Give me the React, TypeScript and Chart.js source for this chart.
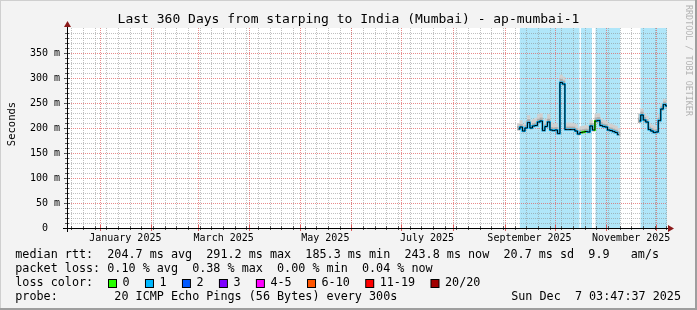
import React, { useEffect, useRef } from 'react';
import { Chart, registerables } from 'chart.js';

Chart.register(...registerables);

// ---------------- text ----------------
const TITLE = 'Last 360 Days from starping to India (Mumbai) - ap-mumbai-1';
const Y_AXIS_TITLE = 'Seconds';
const WATERMARK = 'RRDTOOL / TOBI OETIKER';
const LEGEND_RTT = 'median rtt:  204.7 ms avg  291.2 ms max  185.3 ms min  243.8 ms now  20.7 ms sd  9.9   am/s';
const LEGEND_LOSS = 'packet loss: 0.10 % avg  0.38 % max  0.00 % min  0.04 % now';
const LEGEND_COLOR = 'loss color:';
const LEGEND_PROBE = 'probe:        20 ICMP Echo Pings (56 Bytes) every 300s';
const DATE_STAMP = 'Sun Dec  7 03:47:37 2025';

// ---------------- scales ----------------
const RANGE_DAYS = 360;
const START_UTC = Date.UTC(2024, 11, 12, 12, 0, 0); // graph start (end - 360 days)
const Y_MAX = 400;
const Y_LABEL_TICKS = [0, 50, 100, 150, 200, 250, 300, 350];
const X_LABELS = ['January 2025', 'March 2025', 'May 2025', 'July 2025', 'September 2025', 'November 2025'];
const X_LABEL_YEARS = [2025, 2025, 2025, 2025, 2025, 2025];
const X_LABEL_MONTHS = [0, 2, 4, 6, 8, 10];

// ---------------- loss legend ----------------
const LOSS_LABELS = ['0', '1', '2', '3', '4-5', '6-10', '11-19', '20/20'];
const LOSS_COLORS = ['#26ff00', '#00b8ff', '#0059ff', '#7e00ff', '#ff00ff', '#ff5500', '#ff0000', '#a10000'];

// ---------------- data (x = days since graph start) ----------------
const DAYS = [
  271, 272.5, 274, 275.5, 277, 278.5, 280, 281.5, 283, 284.5,
  286, 287.5, 289, 290.5, 292, 293.5, 295, 296.5, 298, 299.5,
  301, 302.5, 304, 305.5, 307, 308.5, 310, 311.5, 313, 314.5,
  316, 317.5, 319, 320.5, 322, 323.5, 325, 326.5, 328, 329.5,
  331,
  337,
  343.5, 345, 346.5, 348, 349.5, 351, 352.5, 354, 355.5, 357, 358.5, 360,
];
const MEDIAN = [
  198, 202, 194, 200, 211, 200, 204, 205, 212, 214,
  195, 203, 212, 196, 195, 196, 189, 291, 288, 197,
  197, 197, 197, 194, 188, 191, 192, 193, 192, 204,
  196, 214, 215, 205, 203, 202, 196, 195, 193, 191,
  187,
  null,
  214, 226, 216, 212, 197, 194, 191, 192, 215, 238, 247, 244,
];
const SMOKE_HI = [
  209, 215, 207, 214, 225, 214, 217, 220, 227, 229,
  209, 218, 227, 212, 208, 209, 201, 306, 302, 210,
  210, 210, 209, 207, 200, 203, 204, 205, 204, 216,
  208, 228, 229, 219, 215, 214, 209, 208, 206, 204,
  199,
  null,
  229, 239, 229, 224, 209, 206, 203, 204, 227, 249, 257, 254,
];
const SMOKE_MID = [
  203, 207, 199, 205, 217, 205, 209, 210, 218, 220,
  200, 208, 218, 201, 200, 201, 194, 298, 294, 202,
  202, 202, 202, 199, 193, 196, 197, 198, 197, 209,
  201, 220, 221, 211, 208, 207, 201, 200, 198, 196,
  192,
  null,
  220, 232, 221, 217, 202, 199, 196, 197, 220, 243, 252, 249,
];
const SMOKE_LO = [
  196, 200, 192, 198, 208, 198, 202, 203, 209, 211,
  193, 201, 209, 194, 193, 194, 187, 287, 285, 195,
  195, 195, 195, 192, 186, 189, 190, 191, 190, 201,
  194, 211, 212, 203, 201, 200, 194, 193, 191, 189,
  185,
  null,
  211, 223, 213, 209, 195, 192, 189, 190, 212, 235, 244, 241,
];
// loss class per point (index into LOSS_COLORS)
const LOSS = [
  1, 1, 1, 1, 1, 1, 1, 1, 1, 1,
  1, 1, 1, 1, 1, 1, 1, 1, 1, 1,
  1, 1, 1, 1, 1, 0, 0, 1, 1, 1,
  0, 1, 1, 1, 1, 1, 1, 1, 1, 1,
  1,
  1,
  1, 1, 1, 1, 1, 1, 1, 1, 1, 1, 1, 1,
];
// periods with packet loss (background shading), in days since start
const LOSS_BAND_START = [271.6, 308.2, 317.0, 344.0];
const LOSS_BAND_END = [307.6, 315.0, 332.0, 360];

// ---------------- style ----------------
const W = 697;
const H = 310;
const MONO = "'DejaVu Sans Mono', monospace";
const GRID_MINOR = 'rgba(140,140,140,0.55)';
const GRID_MAJOR = 'rgba(225,100,100,0.75)';
const ARROW = '#8b1a1a';

const dayOf = (y: number, m: number, d: number) => (Date.UTC(y, m, d) - START_UTC) / 86400000;

const monthStarts = (): number[] => {
  const out: number[] = [];
  for (let i = 0; i < 14; i++) {
    const v = dayOf(2024, 11 + i, 1);
    if (v > 0 && v < RANGE_DAYS) out.push(v);
  }
  return out;
};
const weekStarts = (): number[] => {
  const out: number[] = [];
  // Sundays
  let v = dayOf(2024, 11, 15);
  while (v > 0) v -= 7;
  for (v += 7; v < RANGE_DAYS; v += 7) out.push(v);
  return out;
};
const labelPositions = () =>
  X_LABEL_MONTHS.map((m, i) => (dayOf(X_LABEL_YEARS[i], m, 1) + dayOf(X_LABEL_YEARS[i], m + 1, 1)) / 2);

const pts = (vals: (number | null)[]) => DAYS.map((d, i) => ({ x: d, y: vals[i] }));
const ranges = (lo: (number | null)[], hi: (number | null)[]) =>
  DAYS.map((d, i) => ({ x: d, y: lo[i] == null || hi[i] == null ? null : [lo[i], hi[i]] }));

const bandPoints = () => {
  const out: { x: number; y: number | null }[] = [];
  LOSS_BAND_START.forEach((s, i) => {
    out.push({ x: s, y: Y_MAX }, { x: LOSS_BAND_END[i], y: Y_MAX });
    if (i < LOSS_BAND_START.length - 1) out.push({ x: (LOSS_BAND_END[i] + LOSS_BAND_START[i + 1]) / 2, y: null });
  });
  return out;
};

const rrdPlugin = {
  id: 'rrdLook',
  beforeDraw(chart: any) {
    const { ctx, chartArea: a } = chart;
    ctx.save();
    ctx.fillStyle = '#f3f3f3';
    ctx.fillRect(0, 0, W, H);
    ctx.fillStyle = '#cfcfcf';
    ctx.fillRect(0, 0, W, 1);
    ctx.fillRect(0, 0, 1, H);
    ctx.fillStyle = '#9e9e9e';
    ctx.fillRect(0, H - 2, W, 2);
    ctx.fillRect(W - 2, 0, 2, H);
    ctx.fillStyle = '#ffffff';
    ctx.fillRect(a.left, a.top, a.right - a.left, a.bottom - a.top);
    ctx.restore();
  },
  afterDatasetDraw(chart: any, args: any) {
    if (args.index !== 0) return;
    const { ctx, chartArea: a, scales } = chart;
    const xs = scales.x;
    const ys = scales.y;
    ctx.save();
    ctx.lineWidth = 1;
    ctx.setLineDash([1, 1]);
    const hline = (v: number, c: string) => {
      const py = Math.round(ys.getPixelForValue(v)) + 0.5;
      ctx.strokeStyle = c;
      ctx.beginPath();
      ctx.moveTo(a.left, py);
      ctx.lineTo(a.right, py);
      ctx.stroke();
    };
    const vline = (v: number, c: string) => {
      const px = Math.round(xs.getPixelForValue(v)) + 0.5;
      ctx.strokeStyle = c;
      ctx.beginPath();
      ctx.moveTo(px, a.top);
      ctx.lineTo(px, a.bottom);
      ctx.stroke();
    };
    for (let v = 10; v < Y_MAX; v += 10) if (v % 50 !== 0) hline(v, GRID_MINOR);
    weekStarts().forEach((v) => vline(v, GRID_MINOR));
    for (let v = 50; v < Y_MAX; v += 50) hline(v, GRID_MAJOR);
    monthStarts().forEach((v) => vline(v, GRID_MAJOR));
    ctx.restore();
  },
  afterDraw(chart: any) {
    const { ctx, chartArea: a, scales } = chart;
    const xs = scales.x;
    const ys = scales.y;
    ctx.save();
    // axis ticks
    ctx.strokeStyle = '#555';
    ctx.lineWidth = 1;
    for (let v = 0; v < Y_MAX; v += 10) {
      const py = Math.round(ys.getPixelForValue(v)) + 0.5;
      ctx.beginPath();
      ctx.moveTo(a.left - (v % 50 === 0 ? 3 : 2), py);
      ctx.lineTo(a.left + (v % 50 === 0 ? 3 : 2), py);
      ctx.stroke();
    }
    weekStarts().forEach((v) => {
      const px = Math.round(xs.getPixelForValue(v)) + 0.5;
      ctx.beginPath();
      ctx.moveTo(px, a.bottom - 2);
      ctx.lineTo(px, a.bottom + 2);
      ctx.stroke();
    });
    monthStarts().forEach((v) => {
      const px = Math.round(xs.getPixelForValue(v)) + 0.5;
      ctx.strokeStyle = 'rgba(220,80,80,0.9)';
      ctx.beginPath();
      ctx.moveTo(px, a.bottom - 3);
      ctx.lineTo(px, a.bottom + 3);
      ctx.stroke();
    });
    // axis lines
    ctx.strokeStyle = '#000';
    ctx.beginPath();
    ctx.moveTo(a.left - 4, a.bottom + 0.5);
    ctx.lineTo(a.right + 3, a.bottom + 0.5);
    ctx.stroke();
    ctx.beginPath();
    ctx.moveTo(a.left + 0.5, a.bottom + 4);
    ctx.lineTo(a.left + 0.5, a.top - 2);
    ctx.stroke();
    // arrows
    ctx.fillStyle = ARROW;
    ctx.beginPath();
    ctx.moveTo(a.right + 1, a.bottom - 3);
    ctx.lineTo(a.right + 7, a.bottom + 0.5);
    ctx.lineTo(a.right + 1, a.bottom + 4);
    ctx.closePath();
    ctx.fill();
    ctx.beginPath();
    ctx.moveTo(a.left - 3, a.top - 1);
    ctx.lineTo(a.left + 0.5, a.top - 7);
    ctx.lineTo(a.left + 4, a.top - 1);
    ctx.closePath();
    ctx.fill();

    // title
    ctx.fillStyle = '#000';
    ctx.textAlign = 'center';
    ctx.textBaseline = 'alphabetic';
    ctx.font = `13px ${MONO}`;
    ctx.fillText(TITLE, W / 2, 22.5);

    // y axis title
    ctx.save();
    ctx.translate(14.5, 124);
    ctx.rotate(-Math.PI / 2);
    ctx.font = `10.5px ${MONO}`;
    ctx.textAlign = 'center';
    ctx.textBaseline = 'alphabetic';
    ctx.fillText(Y_AXIS_TITLE, 0, 0);
    ctx.restore();

    // watermark
    ctx.save();
    ctx.translate(686, 5);
    ctx.rotate(Math.PI / 2);
    ctx.font = `8.4px ${MONO}`;
    ctx.fillStyle = '#b3b3b3';
    ctx.textAlign = 'left';
    ctx.textBaseline = 'alphabetic';
    ctx.fillText(WATERMARK, 0, 0);
    ctx.restore();

    // legend
    ctx.font = `11.75px ${MONO}`;
    ctx.fillStyle = '#000';
    ctx.textAlign = 'left';
    ctx.textBaseline = 'alphabetic';
    ctx.fillText(LEGEND_RTT, 15.3, 258.4);
    ctx.fillText(LEGEND_LOSS, 15.3, 272.3);
    ctx.fillText(LEGEND_COLOR, 15.3, 286.2);
    ctx.fillText(LEGEND_PROBE, 15.3, 300.1);
    ctx.textAlign = 'right';
    ctx.fillText(DATE_STAMP, 681, 300.1);
    ctx.textAlign = 'left';
    let sx = 108;
    LOSS_LABELS.forEach((lab, i) => {
      ctx.fillStyle = '#000';
      ctx.fillRect(sx, 279, 9, 9);
      ctx.fillStyle = LOSS_COLORS[i];
      ctx.fillRect(sx + 1, 280, 7, 7);
      ctx.fillStyle = '#000';
      ctx.fillText(lab, sx + 14.5, 286.2);
      sx += 14.5 + ctx.measureText(lab).width + 15.4;
    });
    ctx.restore();
  },
};

export default function App() {
  const ref = useRef<HTMLCanvasElement>(null);
  useEffect(() => {
    const canvas = ref.current;
    if (!canvas) return;
    const chart = new Chart(canvas, {
      type: 'line',
      data: {
        datasets: [
          {
            type: 'line',
            label: 'loss periods',
            data: bandPoints(),
            backgroundColor: '#b0e6f9',
            borderWidth: 0,
            pointRadius: 0,
            fill: 'origin',
            spanGaps: false,
            order: 10,
          },
          {
            type: 'bar',
            label: 'smoke',
            data: ranges(SMOKE_LO, SMOKE_HI),
            backgroundColor: '#d0d0d0',
            borderWidth: 0,
            grouped: false,
            barPercentage: 1,
            categoryPercentage: 1,
            order: 8,
          },
          {
            type: 'bar',
            label: 'smoke inner',
            data: ranges(SMOKE_LO, SMOKE_MID),
            backgroundColor: '#adadad',
            borderWidth: 0,
            grouped: false,
            barPercentage: 1,
            categoryPercentage: 1,
            order: 7,
          },
          {
            type: 'line',
            label: 'median loss color',
            data: pts(MEDIAN),
            borderColor: LOSS_COLORS[1],
            borderWidth: 2,
            pointRadius: 0,
            stepped: 'middle',
            fill: false,
            spanGaps: false,
            segment: {
              borderColor: (c: any) => LOSS_COLORS[LOSS[c.p0DataIndex]],
            },
            order: 2,
          },
          {
            type: 'line',
            label: 'median rtt',
            data: pts(MEDIAN),
            borderColor: '#000000',
            borderWidth: 1,
            pointRadius: 0,
            stepped: 'middle',
            fill: false,
            spanGaps: false,
            order: 1,
          },
        ],
      } as any,
      options: {
        animation: false,
        responsive: false,
        devicePixelRatio: 1,
        events: [],
        layout: { padding: { left: 0, top: 28, right: 30, bottom: 0 }, autoPadding: false },
        plugins: {
          legend: { display: false },
          title: { display: false },
          tooltip: { enabled: false },
        },
        scales: {
          x: {
            type: 'linear',
            min: 0,
            max: RANGE_DAYS,
            offset: false,
            grid: { display: false, drawTicks: false },
            border: { display: false },
            afterFit: (s: any) => {
              s.height = 82;
            },
            afterBuildTicks: (s: any) => {
              s.ticks = labelPositions().map((v) => ({ value: v }));
            },
            ticks: {
              autoSkip: false,
              maxRotation: 0,
              minRotation: 0,
              padding: 4,
              color: '#000',
              font: { family: MONO, size: 10 },
              callback: (_v: any, i: number) => X_LABELS[i],
            },
          },
          y: {
            type: 'linear',
            min: 0,
            max: Y_MAX,
            grid: { display: false, drawTicks: false },
            border: { display: false },
            afterFit: (s: any) => {
              s.width = 67;
            },
            afterBuildTicks: (s: any) => {
              s.ticks = Y_LABEL_TICKS.map((v) => ({ value: v }));
            },
            ticks: {
              autoSkip: false,
              padding: 7,
              color: '#000',
              font: { family: MONO, size: 10 },
              callback: (v: any) => (Number(v) === 0 ? '0  ' : `${v} m`),
            },
          },
        },
      } as any,
      plugins: [rrdPlugin],
    });
    return () => chart.destroy();
  }, []);
  return (
    <div style={{ position: 'fixed', left: 0, top: 0, width: W, height: H }}>
      <canvas ref={ref} width={W} height={H} style={{ display: 'block', width: W, height: H }} />
    </div>
  );
}
